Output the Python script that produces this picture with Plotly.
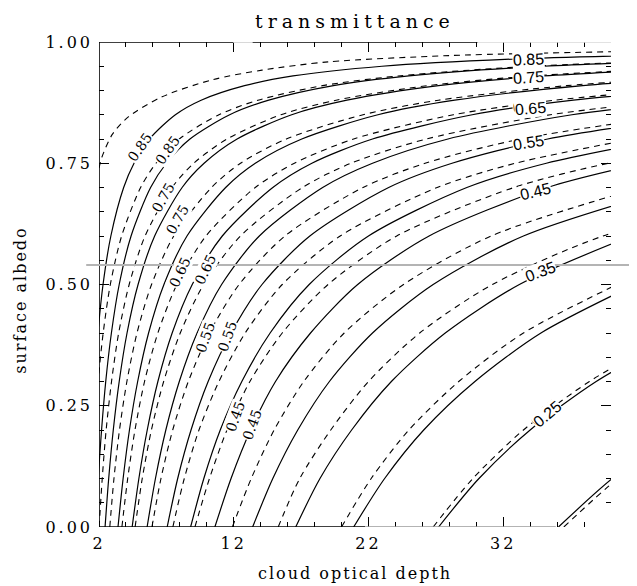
import plotly.graph_objects as go

# ---------------- data ----------------
# albedo positions at which each contour's optical depth was read
ALBEDO_GRID = [0.0, 0.1, 0.2, 0.3, 0.4, 0.5, 0.6, 0.7, 0.75, 0.8, 0.85,
               0.88, 0.91, 0.93, 0.95, 0.965, 0.975, 0.985]

LEVELS = [0.20, 0.25, 0.30, 0.35, 0.40, 0.45, 0.50, 0.55, 0.60, 0.65,
          0.70, 0.75, 0.80, 0.85]

# solid contours: cloud optical depth at ALBEDO_GRID points
SOLID_020 = [36.1, 40.1, 45.1]
SOLID_025 = [27.2, 30.2, 34.0, 38.9, 45.3]
SOLID_030 = [20.9, 23.2, 26.1, 29.9, 34.8, 41.8]
SOLID_035 = [16.6, 18.4, 20.75, 23.7, 27.7, 33.2, 41.5]
SOLID_040 = [13.4, 14.9, 16.75, 19.1, 22.3, 26.8, 33.5, 44.7]
SOLID_045 = [10.6, 11.8, 13.25, 15.1, 17.7, 21.2, 26.5, 35.3, 42.4]
SOLID_050 = [8.8, 9.78, 11.0, 12.6, 14.7, 17.6, 22.0, 29.3, 35.2, 44.0]
SOLID_055 = [7.06, 7.84, 8.83, 10.1, 11.8, 14.1, 17.65, 23.5, 28.2, 35.3, 47.1]
SOLID_060 = [5.57, 6.19, 6.96, 7.96, 9.28, 11.1, 13.9, 18.6, 22.3, 27.9, 37.1, 46.4]
SOLID_065 = [4.46, 4.96, 5.58, 6.37, 7.43, 8.92, 11.15, 14.9, 17.8, 22.3, 29.7, 37.2, 49.6]
SOLID_070 = [3.41, 3.79, 4.26, 4.87, 5.68, 6.82, 8.53, 11.4, 13.6, 17.05, 22.7, 28.4, 37.9, 48.7]
SOLID_075 = [2.45, 2.72, 3.06, 3.5, 4.08, 4.9, 6.13, 8.17, 9.8, 12.25, 16.3, 20.4, 27.2, 35.0, 49.0]
SOLID_080 = [1.75, 1.94, 2.19, 2.5, 2.92, 3.5, 4.38, 5.83, 7.0, 8.75, 11.7, 14.6, 19.4, 25.0, 35.0, 50.0]
SOLID_085 = [1.15, 1.28, 1.44, 1.64, 1.92, 2.3, 2.88, 3.83, 4.6, 5.75, 7.67, 9.58, 12.8, 16.4, 23.0, 32.9, 46.0]

# dashed contours: cloud optical depth at ALBEDO_GRID points
DASHED_020 = [36.5, 40.5, 45.5]
DASHED_025 = [26.8, 29.75, 33.5, 38.4, 44.7]
DASHED_030 = [20.0, 22.2, 25.0, 28.7, 33.5, 40.45]
DASHED_035 = [15.3, 16.9, 19.2, 22.0, 25.8, 31.2, 39.4, 53.0]
DASHED_040 = [11.9, 13.3, 15.0, 17.2, 20.2, 24.6, 31.1, 42.2]
DASHED_045 = [9.12, 10.2, 11.5, 13.2, 15.6, 19.0, 24.1, 32.8, 39.8, 50.3]
DASHED_050 = [7.48, 8.33, 9.42, 10.9, 12.85, 15.6, 19.9, 27.1, 32.9, 41.6]
DASHED_055 = [5.93, 6.60, 7.47, 8.63, 10.2, 12.4, 15.8, 21.6, 26.2, 33.3, 45.0]
DASHED_060 = [4.68, 5.21, 5.89, 6.80, 8.03, 9.77, 12.5, 17.1, 20.7, 26.3, 35.5, 44.7]
DASHED_065 = [3.70, 4.13, 4.67, 5.38, 6.37, 7.78, 9.94, 13.6, 16.5, 20.9, 28.3, 35.8, 48.2]
DASHED_070 = [2.80, 3.11, 3.52, 4.07, 4.82, 5.90, 7.55, 10.35, 12.5, 15.9, 21.6, 27.2, 36.7, 47.5]
DASHED_075 = [2.01, 2.24, 2.53, 2.93, 3.46, 4.24, 5.42, 7.42, 9.03, 11.5, 15.5, 19.6, 26.4, 34.1, 48.1]
DASHED_080 = [1.31, 1.46, 1.66, 1.93, 2.31, 2.84, 3.68, 5.09, 6.23, 7.96, 10.9, 13.8, 18.6, 24.2, 34.1, 49.1]
# outermost dashed (0.85) read on its own points
DASHED_085_TAU = [2.0, 2.22, 3.0, 4.15, 6.68, 10.4, 14.1, 19.0, 28.0, 40.0, 44.0]
DASHED_085_ALB = [0.74, 0.763, 0.81, 0.845, 0.887, 0.922, 0.942, 0.959, 0.972, 0.98, 0.982]

SOLID_LINES = [SOLID_020, SOLID_025, SOLID_030, SOLID_035, SOLID_040, SOLID_045,
               SOLID_050, SOLID_055, SOLID_060, SOLID_065, SOLID_070, SOLID_075,
               SOLID_080, SOLID_085]
DASHED_LINES = [DASHED_020, DASHED_025, DASHED_030, DASHED_035, DASHED_040, DASHED_045,
                DASHED_050, DASHED_055, DASHED_060, DASHED_065, DASHED_070, DASHED_075,
                DASHED_080]

# contour labels: text, optical depth, albedo, angle, style
LABEL_TEXT = ["0.85", "0.85", "0.75", "0.75", "0.65", "0.65", "0.55", "0.55", "0.45", "0.45",
              "0.85", "0.75", "0.65", "0.65", "0.55", "0.45", "0.35", "0.25", "0.25"]
LABEL_TAU = [5.04, 7.1, 6.75, 7.8, 8.0, 9.87, 9.87, 11.5, 12.1, 13.36,
             33.9, 33.9, 33.9, 34.05, 33.9, 34.4, 34.8, 35.1, 35.25]
LABEL_ALB = [0.784, 0.777, 0.678, 0.633, 0.526, 0.53, 0.39, 0.392, 0.227, 0.21,
             0.963, 0.926, 0.868, 0.862, 0.792, 0.691, 0.526, 0.237, 0.232]
LABEL_ANGLE = [-55, -55, -60, -60, -65, -65, -70, -70, -70, -70,
               -3, -4, -5, -5, -9, -14, -20, -40, -40]
LABEL_SERIF = [True] * 10 + [False] * 9

X_TICKS = [2, 12, 22, 32]
Y_TICKS = [0.0, 0.25, 0.5, 0.75, 1.0]
Y_TICK_TEXT = ["0.00", "0.25", "0.50", "0.75", "1.00"]

# ---------------- figure ----------------
fig = go.Figure()

for lev, taus in zip(LEVELS, SOLID_LINES):
    fig.add_trace(go.Scatter(
        x=taus, y=ALBEDO_GRID[:len(taus)], mode="lines",
        line=dict(color="black", width=1.2, shape="spline", smoothing=0.8),
        name=f"{lev:.2f}", showlegend=False, hoverinfo="skip"))

for lev, taus in zip(LEVELS[:-1], DASHED_LINES):
    fig.add_trace(go.Scatter(
        x=taus, y=ALBEDO_GRID[:len(taus)], mode="lines",
        line=dict(color="black", width=1.1, dash="6px,5px", shape="spline", smoothing=0.8),
        name=f"{lev:.2f}", showlegend=False, hoverinfo="skip"))

fig.add_trace(go.Scatter(
    x=DASHED_085_TAU, y=DASHED_085_ALB, mode="lines",
    line=dict(color="black", width=1.1, dash="6px,5px", shape="spline", smoothing=0.8),
    showlegend=False, hoverinfo="skip"))

SERIF = "DejaVu Serif"
SANS = "Liberation Sans"

for txt, tx, ty, ang, serif in zip(LABEL_TEXT, LABEL_TAU, LABEL_ALB, LABEL_ANGLE, LABEL_SERIF):
    fig.add_annotation(
        x=tx, y=ty, xref="x", yref="y", text=txt, showarrow=False,
        textangle=ang, bgcolor="white", borderpad=0,
        font=dict(family=SERIF if serif else SANS, size=14 if serif else 16, color="black"))

sp = lambda s, n: f'<span style="letter-spacing:{n}px">{s}</span>'

# title and axis titles
fig.add_annotation(x=0.5, y=1.043, xref="paper", yref="paper", showarrow=False,
                   text=sp("transmittance", 5), xanchor="center", yanchor="middle",
                   font=dict(family=SERIF, size=19, color="black"))
fig.add_annotation(x=0.5, y=-0.095, xref="paper", yref="paper", showarrow=False,
                   text=sp("cloud optical depth", 2), xanchor="center", yanchor="middle",
                   font=dict(family=SERIF, size=16, color="black"))
fig.add_annotation(x=-0.155, y=0.468, xref="paper", yref="paper", showarrow=False,
                   text=sp("surface albedo", 2), textangle=-90, xanchor="center", yanchor="middle",
                   font=dict(family=SERIF, size=16, color="black"))

# axis frame (the scan lost parts of it)
frame = [
    dict(x0=2, x1=2, y0=0, y1=1, color="black"),
    dict(x0=2, x1=21.75, y0=0, y1=0, color="black"),
    dict(x0=21.75, x1=35.9, y0=0, y1=0, color="#9a9a9a"),
    dict(x0=2, x1=11.95, y0=1, y1=1, color="black"),
    dict(x0=11.95, x1=13.4, y0=1, y1=1, color="#cfcfcf"),
    dict(x0=13.4, x1=30.1, y0=1, y1=1, color="black"),
    dict(x0=30.1, x1=40, y0=1, y1=1, color="#d8d8d8"),
]
for f in frame:
    fig.add_shape(type="line", xref="x", yref="y", x0=f["x0"], x1=f["x1"],
                  y0=f["y0"], y1=f["y1"], line=dict(color=f["color"], width=1.6), layer="above")

# grey horizontal scan artefact
fig.add_shape(type="line", xref="paper", yref="paper", x0=-0.025, x1=1.06, y0=0.540, y1=0.540,
              line=dict(color="#b4b4b4", width=2), layer="above")

fig.update_xaxes(
    range=[2, 40], tickmode="array", tickvals=X_TICKS,
    ticktext=[sp(str(v), 3) for v in X_TICKS],
    ticks="inside", ticklen=10, tickwidth=1, tickcolor="black", mirror="ticks",
    showline=False, showgrid=False, zeroline=False, automargin=False,
    minor=dict(dtick=2, tick0=2, ticks="inside", ticklen=5, tickcolor="black", tickwidth=1),
    tickfont=dict(family=SERIF, size=16, color="black"), ticklabelstandoff=5)
fig.update_yaxes(
    range=[0, 1], tickmode="array", tickvals=Y_TICKS,
    ticktext=[sp(t, 3) for t in Y_TICK_TEXT],
    ticks="inside", ticklen=10, tickwidth=1, tickcolor="black", mirror="ticks",
    showline=False, showgrid=False, zeroline=False, automargin=False,
    minor=dict(dtick=0.05, tick0=0, ticks="inside", ticklen=5, tickcolor="black", tickwidth=1),
    tickfont=dict(family=SERIF, size=16, color="black"), ticklabelstandoff=5)

# the page has an 8px body margin, so the figure is offset to sit in the window
fig.update_layout(
    width=629, height=578, autosize=False,
    margin=dict(l=91, r=26, t=34, b=59),
    paper_bgcolor="white", plot_bgcolor="white", showlegend=False)

fig.write_html("out.html")
